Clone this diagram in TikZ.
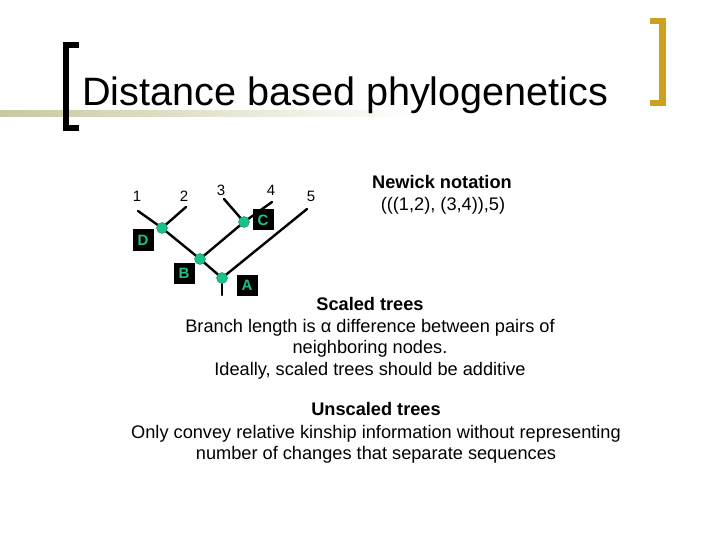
\documentclass[tikz,border=0pt]{standalone}
\usepackage{fontspec}
\setmainfont{Liberation Sans}
\usepackage{tikz}
\definecolor{nodegreen}{RGB}{25,195,135}
\definecolor{bracketgold}{RGB}{205,160,30}
\definecolor{rulegray}{RGB}{200,200,160}
\tikzset{
  branch/.style={line width=2.4pt, line cap=round},
  joint/.style={circle, fill=nodegreen, draw=nodegreen!70!black, line width=0.4pt, inner sep=0pt, minimum size=11pt},
  tag/.style={fill=black, text=nodegreen, font=\fontsize{15}{15}\selectfont\bfseries, minimum size=21pt, inner sep=0pt},
  leaf/.style={font=\fontsize{15}{15}\selectfont, inner sep=0pt, anchor=base},
  line/.style={font=\fontsize{18.2}{18.2}\selectfont, inner sep=0pt, anchor=base},
  head/.style={line, font=\fontsize{18.2}{18.2}\selectfont\bfseries}
}
\begin{document}
\begin{tikzpicture}[x=1pt, y=-1pt]

  \useasboundingbox[fill=white] (0,0) rectangle (720,540);

  % title bar
  \shade[left color=rulegray, right color=white] (0,111) rectangle (420,117);
  \fill[black] (63,42) rectangle (69,131);
  \fill[black] (63,42) rectangle (79,48);
  \fill[black] (63,125) rectangle (79,131);
  \fill[bracketgold] (659,18) rectangle (666,106);
  \fill[bracketgold] (650,18) rectangle (666,24);
  \fill[bracketgold] (650,100) rectangle (666,106);
  \node[anchor=base west, inner sep=0pt, font=\fontsize{39.6}{39.6}\selectfont] (title) at (82,106) {Distance based phylogenetics};

  % tree
  \coordinate (l1) at (138,211);
  \coordinate (l2) at (186,207);
  \coordinate (l3) at (224,199);
  \coordinate (l4) at (272,202);
  \coordinate (l5) at (307,209);
  \coordinate (root) at (222,295);

  \coordinate (d) at (162,228);
  \coordinate (c) at (244,222);
  \coordinate (b) at (200,259);
  \coordinate (a) at (222,278);

%  \draw (d) node {d};
%  \draw (c) node {c};

  \draw[branch] (l1) -- (d);
  \draw[branch] (l2) -- (d);
  \draw[branch] (l3) -- (c);
  \draw[branch] (l4) -- (c);
  \draw[branch] (d) -- (b);
  \draw[branch] (c) -- (b);
  \draw[branch] (b) -- (a);
  \draw[branch] (l5) -- (a);
  \draw[branch] (a) -- (root);

  \node[joint] (dotd) at (d) {};
  \node[joint] (dotc) at (c) {};
  \node[joint] (dotb) at (b) {};
  \node[joint] (dota) at (a) {};

  \node[tag] (tagd) at (143,240) {D};
  \node[tag] (tagc) at (263,220) {C};
  \node[tag] (tagb) at (184,273) {B};
  \node[tag] (taga) at (247,285) {A};

  \node[leaf] (n1) at (137,202) {1};
  \node[leaf] (n2) at (184,202) {2};
  \node[leaf] (n3) at (221,196) {3};
  \node[leaf] (n4) at (271,196) {4};
  \node[leaf] (n5) at (311,202) {5};

  % texts
  \node[head] (newick) at (442,189) {Newick notation};
  \node[line] (newickexpr) at (443,211) {(((1,2), (3,4)),5)};

  \node[head] (scaled) at (370,310) {Scaled trees};
  \node[line] (scaled1) at (370,332) {Branch length is α difference between pairs of};
  \node[line] (scaled2) at (370,353) {neighboring nodes.};
  \node[line] (scaled3) at (370,375) {Ideally, scaled trees should be additive};

  \node[head] (unscaled) at (376,415) {Unscaled trees};
  \node[line] (unscaled1) at (376,438) {Only convey relative kinship information without representing};
  \node[line] (unscaled2) at (376,459) {number of changes that separate sequences};

\end{tikzpicture}
\end{document}
